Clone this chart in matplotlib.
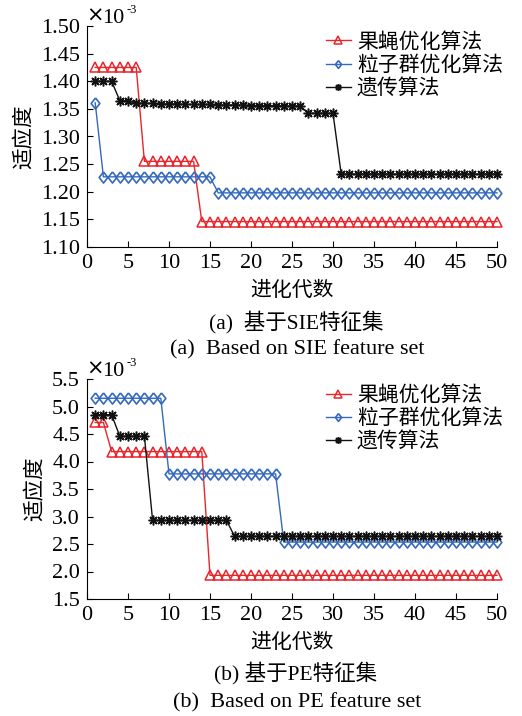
import matplotlib
matplotlib.use("Agg")
import matplotlib.pyplot as plt
import numpy as np

plt.rcParams['font.family'] = ['Liberation Serif', 'Noto Sans CJK SC']

gens = list(range(1, 51))

# (a) SIE feature set, values in units of 1e-3
foa_a = [1.425]*6 + [1.255]*7 + [1.146]*37
pso_a = [1.361] + [1.227]*14 + [1.198]*35
ga_a = ([1.400]*3 + [1.365]*2 +
        [1.360, 1.360, 1.360, 1.359, 1.359, 1.359, 1.358, 1.358, 1.358, 1.358,
         1.357, 1.357, 1.357, 1.357, 1.356, 1.356, 1.356, 1.356, 1.355, 1.355, 1.355] +
        [1.342]*4 + [1.232]*20)

# (b) PE feature set
foa_b = [4.71]*2 + [4.18]*12 + [1.93]*36
pso_b = [5.15]*9 + [3.775]*14 + [2.535]*27
ga_b = [4.85]*3 + [4.46]*4 + [2.93]*10 + [2.64]*33

legend_labels = ['果蝇优化算法', '粒子群优化算法', '遗传算法']
yticks_a = [1.10, 1.15, 1.20, 1.25, 1.30, 1.35, 1.40, 1.45, 1.50]
yticks_b = [1.5, 2.0, 2.5, 3.0, 3.5, 4.0, 4.5, 5.0, 5.5]
xticks = [0, 5, 10, 15, 20, 25, 30, 35, 40, 45, 50]

W, H = 522, 716
fig = plt.figure(figsize=(W/100, H/100), dpi=100)
fig.patch.set_facecolor('white')

cjk = ['Noto Sans CJK SC', 'DejaVu Sans']
mixed = ['Liberation Serif', 'Noto Sans CJK SC']

RED = '#e8262b'
BLUE = '#3569bd'
BLACK = '#111111'
DIAMOND = [(0, 1), (0.78, 0), (0, -1), (-0.78, 0), (0, 1)]

def make_axes(top, bottom):
    return fig.add_axes([87/W, (H-bottom)/H, (497-87)/W, (bottom-top)/H])

def draw(ax, foa, pso, ga, yticks, fmt, ylim, top_px):
    ax.plot(gens, foa, color=RED, lw=1.0, marker='^', ms=7.5, mfc='none', mec=RED,
            mew=1.1, clip_on=False, label=legend_labels[0], zorder=3)
    ax.plot(gens, pso, color=BLUE, lw=1.0, marker=DIAMOND, ms=8, mfc='none', mec=BLUE,
            mew=1.2, clip_on=False, label=legend_labels[1], zorder=3)
    ax.plot(gens, ga, color=BLACK, lw=1.0, marker=(8, 2, 0), ms=7, mec=BLACK,
            mew=1.1, clip_on=False, label=legend_labels[2], zorder=4)
    ax.set_xlim(0, 50)
    ax.set_ylim(*ylim)
    ax.set_xticks(xticks)
    ax.set_yticks(yticks)
    ax.set_yticklabels([fmt.format(v) for v in yticks])
    ax.tick_params(direction='in', length=4, width=0.8, labelsize=16, pad=5)
    for lab in ax.get_xticklabels() + ax.get_yticklabels():
        lab.set_fontfamily('Liberation Serif')
    ax.spines['top'].set_visible(False)
    ax.spines['right'].set_visible(False)
    ax.set_xlabel('进化代数', fontfamily=cjk, fontsize=15, labelpad=4)
    ax.set_ylabel('适应度', fontfamily=cjk, fontsize=15.5, labelpad=4)
    ax.legend(loc='upper right', bbox_to_anchor=(1.045, 1.035), frameon=False,
              prop={'family': cjk, 'size': 15}, handlelength=1.2,
              handletextpad=0.3, labelspacing=0.07, markerscale=0.7,
              borderaxespad=0.2)
    fig.text(86/W, 1-(top_px-4)/H, '×', fontfamily='DejaVu Sans',
             fontsize=15, ha='left', va='baseline')
    fig.text(102/W, 1-(top_px-3)/H, '10', fontfamily='Liberation Serif',
             fontsize=16, ha='left', va='baseline')
    fig.text(127/W, 1-(top_px-13)/H, '-3', fontfamily='Liberation Serif',
             fontsize=9, ha='left', va='baseline')
    ax.set_facecolor('white')

ax1 = make_axes(26, 247)
draw(ax1, foa_a, pso_a, ga_a, yticks_a, '{:.2f}', (1.10, 1.50), 26)
ax2 = make_axes(379, 599)
draw(ax2, foa_b, pso_b, ga_b, yticks_b, '{:.1f}', (1.5, 5.5), 379)

fig.text(296/W, 1-322/H, '(a)  基于SIE特征集', fontfamily=mixed, fontsize=15.5,
         ha='center', va='center')
fig.text(297/W, 1-350/H, '(a)  Based on SIE feature set', fontfamily=mixed, fontsize=16,
         ha='center', va='center')
fig.text(296/W, 1-673/H, '(b) 基于PE特征集', fontfamily=mixed, fontsize=15.5,
         ha='center', va='center')
fig.text(297/W, 1-703/H, '(b)  Based on PE feature set', fontfamily=mixed, fontsize=16,
         ha='center', va='center')

fig.savefig('out.png', dpi=100, facecolor='white')
